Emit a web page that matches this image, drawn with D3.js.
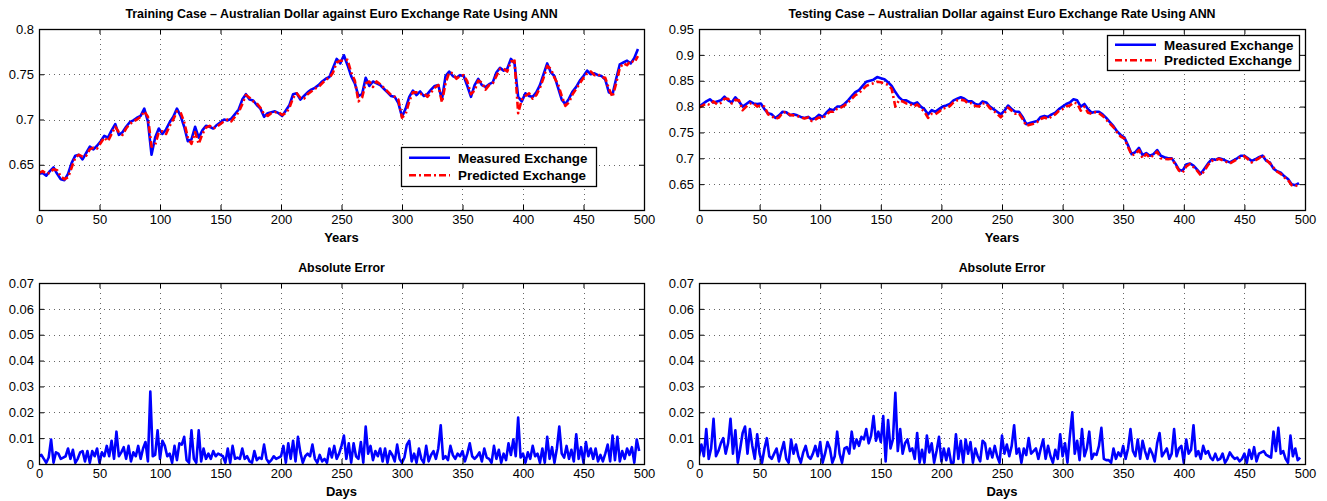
<!DOCTYPE html>
<html><head><meta charset="utf-8">
<script src="https://cdn.jsdelivr.net/npm/d3@7"></script>
<style>
html,body{margin:0;padding:0;background:#fff;}
svg text{font-family:"Liberation Sans",Arial,Helvetica,sans-serif;fill:#000;}
</style></head>
<body><svg id="c" width="1327" height="501"></svg>
<script>
// ---------- data ----------
const xTicks = [0,50,100,150,200,250,300,350,400,450,500];
const trainYTicks = [0.65,0.7,0.75,0.8];
const testYTicks = [0.65,0.7,0.75,0.8,0.85,0.9,0.95];
const errYTicks = [0,0.01,0.02,0.03,0.04,0.05,0.06,0.07];
const priceStep = 3;   // days between price samples
const errStep = 2;     // days between error samples
const legendLabels = ["Measured Exchange","Predicted Exchange"];

const trainMeasured = [.640,.641,.638,.643,.647,.640,.634,.633,.640,.652,.660,.661,.656,.663,.670,.667,.671,.676,.682,.680,
.688,.695,.683,.686,.692,.697,.699,.702,.704,.712,.698,.661,.680,.690,.684,.689,.697,.703,.712,.704,
.692,.676,.678,.692,.680,.688,.693,.692,.690,.694,.697,.700,.699,.701,.706,.711,.722,.728,.722,.721,
.716,.712,.703,.707,.708,.709,.707,.704,.710,.716,.728,.729,.722,.726,.730,.733,.735,.738,.742,.745,
.747,.757,.767,.762,.771,.760,.748,.740,.726,.728,.746,.737,.742,.740,.738,.734,.730,.726,.725,.718,
.703,.712,.725,.732,.727,.731,.726,.728,.733,.737,.738,.722,.748,.753,.748,.746,.749,.748,.737,.725,
.738,.745,.738,.736,.739,.741,.752,.757,.754,.756,.767,.762,.725,.720,.729,.726,.725,.730,.738,.750,
.762,.752,.748,.735,.722,.717,.723,.731,.736,.743,.748,.754,.750,.751,.749,.748,.744,.730,.728,.745,
.761,.763,.765,.762,.768,.778];

const trainPredicted = [.641,.643,.640,.641,.645,.644,.637,.634,.636,.647,.658,.661,.659,.660,.667,.669,.668,.674,.680,.676,
.684,.692,.686,.683,.690,.695,.698,.700,.703,.709,.703,.670,.672,.686,.687,.684,.693,.700,.709,.708,
.697,.680,.673,.686,.673,.684,.691,.693,.690,.692,.695,.698,.700,.698,.703,.708,.717,.727,.724,.720,
.718,.713,.706,.704,.707,.708,.708,.705,.707,.713,.724,.729,.724,.723,.728,.731,.734,.736,.740,.744,
.746,.752,.763,.765,.765,.766,.752,.743,.720,.724,.740,.742,.736,.742,.739,.735,.731,.727,.725,.722,
.702,.706,.720,.730,.730,.728,.729,.725,.730,.735,.738,.719,.740,.752,.751,.745,.748,.749,.742,.728,
.732,.743,.741,.733,.738,.740,.748,.756,.756,.753,.764,.765,.707,.722,.726,.729,.723,.727,.735,.746,
.759,.756,.746,.739,.726,.715,.719,.728,.734,.740,.746,.751,.753,.749,.750,.747,.746,.734,.725,.740,
.757,.762,.760,.765,.763,.770];

const testMeasured = [.800,.805,.810,.814,.808,.810,.812,.819,.812,.808,.818,.810,.800,.805,.810,.806,.805,.806,.795,.787,
.785,.778,.783,.790,.789,.783,.785,.783,.780,.778,.780,.775,.778,.784,.780,.788,.795,.793,.800,.800,
.805,.812,.820,.828,.832,.840,.848,.850,.852,.857,.855,.853,.847,.840,.828,.818,.812,.812,.808,.805,
.808,.800,.795,.785,.793,.790,.795,.800,.802,.805,.812,.815,.818,.815,.810,.810,.805,.803,.810,.808,
.800,.795,.790,.785,.792,.802,.795,.790,.790,.780,.766,.768,.770,.772,.780,.782,.780,.785,.788,.795,
.800,.805,.808,.814,.812,.800,.805,.795,.788,.790,.790,.785,.778,.770,.762,.752,.745,.740,.725,.708,
.712,.720,.706,.710,.705,.708,.716,.705,.702,.700,.700,.690,.678,.676,.688,.690,.686,.678,.670,.680,
.690,.698,.697,.700,.698,.695,.692,.696,.700,.705,.705,.700,.695,.698,.702,.705,.695,.692,.680,.675,
.672,.665,.660,.650,.648,.652];

const testPredicted = [.798,.802,.806,.803,.810,.804,.807,.815,.815,.806,.813,.812,.793,.800,.806,.806,.800,.803,.800,.785,
.782,.776,.779,.788,.790,.784,.783,.782,.779,.777,.779,.772,.775,.779,.777,.784,.790,.790,.796,.798,
.802,.808,.815,.822,.826,.833,.840,.843,.845,.848,.847,.845,.842,.834,.800,.812,.810,.806,.805,.800,
.804,.797,.790,.778,.786,.785,.790,.796,.798,.801,.808,.812,.813,.812,.806,.807,.801,.800,.806,.806,
.797,.792,.786,.779,.787,.798,.792,.786,.787,.776,.763,.765,.767,.770,.776,.779,.776,.781,.785,.792,
.795,.800,.802,.808,.806,.792,.800,.788,.786,.789,.787,.782,.775,.767,.760,.750,.742,.738,.722,.706,
.708,.716,.700,.708,.701,.706,.713,.700,.699,.698,.699,.688,.676,.672,.684,.689,.683,.676,.667,.676,
.687,.695,.696,.699,.696,.693,.690,.694,.698,.703,.704,.698,.692,.696,.700,.706,.697,.690,.682,.674,
.670,.663,.658,.648,.646,.650];

const trainError = [.003,.0035,.002,.0005,.0025,.0095,.0005,.0045,.004,.002,.0025,.003,.006,.002,.0055,.0005,.002,.0045,.005,.001,
.005,.0005,.005,.003,.006,.0005,.0045,.003,.007,.003,.009,.002,.0125,.003,.0045,.0065,.002,.007,.001,.0045,
.003,.007,.002,.006,.0085,.001,.028,.003,.0035,.013,.002,.009,.007,.003,.004,.0005,.007,.0015,.008,.0075,
.0105,.0015,.0005,.013,.002,.0005,.013,.001,.006,.002,.004,.002,.005,.003,.004,.0035,.003,.0005,.006,.0005,
.007,.002,.0025,.002,.006,.002,.003,.001,.0005,.005,.0015,.0025,.002,.0075,.002,.0005,.0015,.003,.002,.0025,
.003,.007,.0005,.008,.002,.009,.001,.0105,.0045,.0005,.003,.004,.003,.0075,.002,.0005,.0035,.001,.002,.0005,
.006,.0025,.007,.002,.004,.007,.011,.002,.008,.0005,.008,.003,.002,.0085,.0005,.0145,.004,.007,.0015,.005,
.003,.006,.001,.006,.0005,.005,.0035,.001,.0075,.002,.0005,.0025,.0075,.009,.001,.004,.0005,.006,.002,.0005,
.007,.001,.0035,.005,.002,.006,.015,.002,.003,.0015,.007,.0035,.002,.004,.003,.005,.001,.004,.008,.003,
.002,.003,.0045,.001,.006,.0025,.002,.0005,.007,.002,.0055,.0005,.004,.0015,.008,.0035,.0095,.003,.018,.0025,
.004,.0005,.0045,.002,.007,.003,.004,.0005,.006,.0005,.0105,.002,.0065,.0005,.006,.0145,.004,.0025,.007,.002,
.0055,.001,.0115,.002,.0065,.0005,.0085,.003,.006,.002,.006,.001,.0035,.001,.004,.0075,.001,.011,.0015,.0105,
.001,.005,.002,.006,.0035,.0065,.0005,.0095,.005];

const testError = [.003,.0075,.003,.0135,.002,.006,.0175,.003,.005,.008,.010,.004,.008,.0175,.004,.013,.0005,.006,.012,.0145,
.004,.0135,.007,.002,.0115,.004,.0005,.006,.010,.003,.002,.004,.006,.001,.005,.0085,.002,.0005,.0095,.004,
.0075,.003,.0005,.0045,.007,.003,.002,.004,.007,.003,.0085,.0005,.004,.0085,.006,.0005,.003,.0125,.004,.0005,
.006,.0065,.004,.0125,.006,.0095,.007,.0105,.0095,.0135,.008,.011,.0185,.009,.0125,.0085,.0185,.001,.017,.006,
.0095,.0275,.005,.0135,.004,.008,.0095,.005,.006,.002,.012,.0005,.0055,.0005,.011,.0045,.008,.0005,.005,.0105,
.001,.006,.0015,.006,.0005,.0005,.0115,.002,.009,.0005,.0095,.004,.0085,.0005,.006,.003,.001,.009,.008,.002,
.006,.0025,.007,.003,.0005,.011,.004,.0075,.003,.007,.015,.004,.006,.0005,.006,.0035,.010,.004,.005,.006,
.002,.006,.0095,.002,.007,.003,.0005,.0055,.002,.0115,.003,.008,.0005,.011,.020,.004,.009,.0015,.0135,.003,
.006,.0125,.002,.004,.0035,.007,.014,.002,.0015,.0015,.0005,.006,.002,.0045,.003,.007,.002,.006,.0135,.005,
.003,.0095,.002,.009,.005,.002,.006,.004,.001,.008,.012,.003,.0045,.006,.002,.004,.0135,.003,.006,.007,
.0005,.0095,.004,.0055,.015,.003,.005,.002,.007,.004,.005,.0025,.0015,.004,.0015,.002,.004,.0005,.002,.0045,
.003,.002,.0025,.001,.002,.004,.0005,.0055,.002,.0065,.001,.004,.0045,.005,.0035,.003,.0025,.0125,.005,.014,
.004,.005,.002,.0005,.011,.003,.006,.0015,.0025];

// ---------- layout ----------
const svg = d3.select("#c");
const L = {x0:39, x1:644}, R = {x0:699, x1:1305};
const T = {y0:29, y1:210}, B = {y0:283, y1:464};

const panels = [
  {col:L, row:T, ydom:[0.6,0.8], yt:trainYTicks, title:"Training Case \u2013 Australian Dollar against Euro Exchange Rate Using ANN", xl:"Years",
   series:[{v:trainMeasured, step:priceStep, c:"#0000ff", dash:null},{v:trainPredicted, step:priceStep, c:"#ff0000", dash:"7,3,2,3"}],
   legend:{x:401, y:147, w:195, h:39}},
  {col:R, row:T, ydom:[0.6,0.95], yt:testYTicks, title:"Testing Case \u2013 Australian Dollar against Euro Exchange Rate Using ANN", xl:"Years",
   series:[{v:testMeasured, step:priceStep, c:"#0000ff", dash:null},{v:testPredicted, step:priceStep, c:"#ff0000", dash:"7,3,2,3"}],
   legend:{x:1107, y:35, w:192, h:35}},
  {col:L, row:B, ydom:[0,0.07], yt:errYTicks, title:"Absolute Error", xl:"Days",
   series:[{v:trainError, step:errStep, c:"#0000ff", dash:null}]},
  {col:R, row:B, ydom:[0,0.07], yt:errYTicks, title:"Absolute Error", xl:"Days",
   series:[{v:testError, step:errStep, c:"#0000ff", dash:null}]}
];

panels.forEach((p,i)=>{
  const x = d3.scaleLinear().domain([0,500]).range([p.col.x0,p.col.x1]);
  const y = d3.scaleLinear().domain(p.ydom).range([p.row.y1,p.row.y0]);
  const g = svg.append("g");
  const cid = "clip"+i;
  svg.append("clipPath").attr("id",cid).append("rect")
    .attr("x",p.col.x0).attr("y",p.row.y0).attr("width",p.col.x1-p.col.x0).attr("height",p.row.y1-p.row.y0);

  // grid
  const grid = g.append("g").attr("stroke","#333").attr("stroke-width",1).attr("stroke-dasharray","1,4").attr("opacity",0.75);
  xTicks.slice(1,-1).forEach(t=>grid.append("line").attr("x1",Math.round(x(t))+0.5).attr("x2",Math.round(x(t))+0.5).attr("y1",p.row.y0).attr("y2",p.row.y1));
  p.yt.forEach(t=>{ if(t!==p.ydom[0] && t!==p.ydom[1]) grid.append("line").attr("y1",Math.round(y(t))+0.5).attr("y2",Math.round(y(t))+0.5).attr("x1",p.col.x0).attr("x2",p.col.x1);});

  // series
  const sg = g.append("g").attr("clip-path",`url(#${cid})`);
  p.series.forEach(s=>{
    const line = d3.line().x((d,k)=>x(k*s.step)).y(d=>y(d));
    sg.append("path").datum(s.v).attr("d",line).attr("fill","none")
      .attr("stroke",s.c).attr("stroke-width",2.6).attr("stroke-linejoin","round")
      .attr("stroke-dasharray",s.dash);
  });

  // axes (inward ticks)
  const fmt = d=>String(d);
  const ax = g.append("g").attr("transform",`translate(0,${p.row.y1})`)
    .call(d3.axisBottom(x).tickValues(xTicks).tickSize(-5).tickPadding(5).tickFormat(fmt));
  const axt = g.append("g").attr("transform",`translate(0,${p.row.y0})`)
    .call(d3.axisTop(x).tickValues(xTicks).tickSize(-5).tickFormat(""));
  const ay = g.append("g").attr("transform",`translate(${p.col.x0},0)`)
    .call(d3.axisLeft(y).tickValues(p.yt).tickSize(-5).tickPadding(5).tickFormat(fmt));
  const ayr = g.append("g").attr("transform",`translate(${p.col.x1},0)`)
    .call(d3.axisRight(y).tickValues(p.yt).tickSize(-5).tickFormat(""));
  [ax,axt,ay,ayr].forEach(a=>{
    a.select(".domain").remove();
    a.selectAll(".tick line").attr("stroke","#000");
    a.selectAll("text").attr("font-size","13px").style("font-family","'Liberation Sans',Arial,sans-serif");
  });
  g.append("rect").attr("x",p.col.x0+0.5).attr("y",p.row.y0+0.5)
    .attr("width",p.col.x1-p.col.x0).attr("height",p.row.y1-p.row.y0)
    .attr("fill","none").attr("stroke","#000").attr("stroke-width",1.3);

  // title & x label
  const cx = (p.col.x0+p.col.x1)/2;
  g.append("text").attr("x",cx).attr("y",p.row.y0-11).attr("text-anchor","middle")
    .attr("font-size","12.4px").attr("font-weight","bold").text(p.title);
  g.append("text").attr("x",cx).attr("y",p.row.y1+32).attr("text-anchor","middle")
    .attr("font-size","13px").attr("font-weight","bold").text(p.xl);

  // legend
  if(p.legend){
    const lg = g.append("g");
    const b = p.legend;
    lg.append("rect").attr("x",b.x+0.5).attr("y",b.y+0.5).attr("width",b.w).attr("height",b.h)
      .attr("fill","#fff").attr("stroke","#000").attr("stroke-width",1.3);
    const rowH = b.h/2;
    p.series.forEach((s,k)=>{
      const yy = b.y + rowH*(k+0.5) + (k===0?1:-1);
      lg.append("line").attr("x1",b.x+8).attr("x2",b.x+49).attr("y1",yy).attr("y2",yy)
        .attr("stroke",s.c).attr("stroke-width",2.6).attr("stroke-dasharray",s.dash);
      lg.append("text").attr("x",b.x+57).attr("y",yy+4.8).attr("font-size","13.4px")
        .attr("font-weight","bold").text(legendLabels[k]);
    });
  }
});
</script></body></html>
